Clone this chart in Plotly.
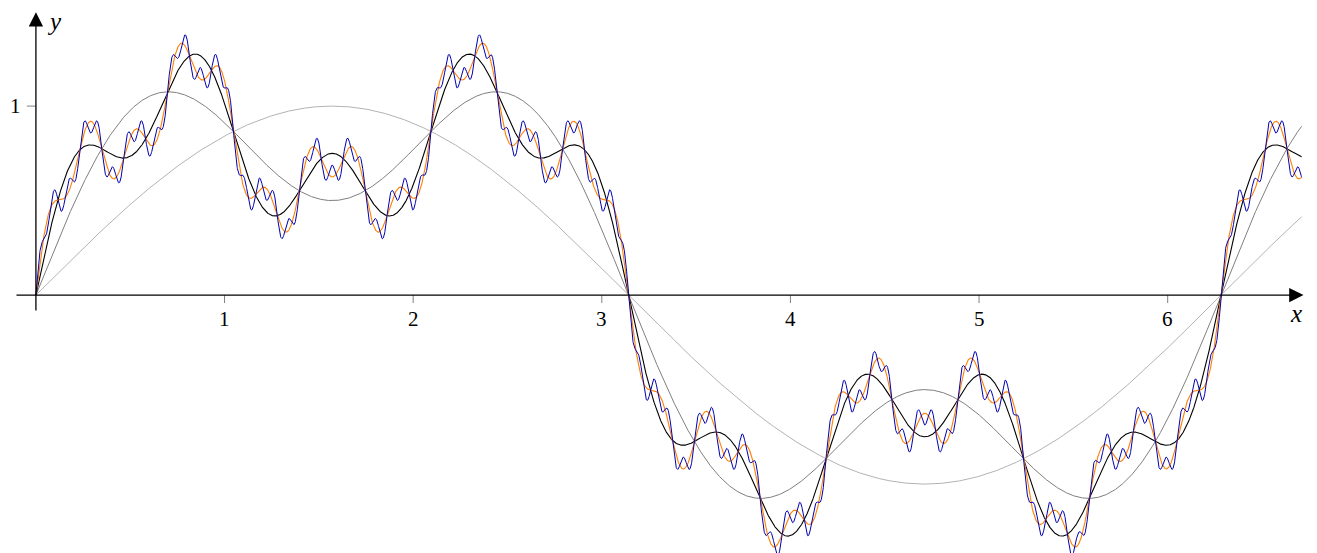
import numpy as np
import plotly.graph_objects as go

# Partial sums of sum_k sin(3^k x) / 2^k
frequencies = [1, 3, 9, 27, 81]
amplitudes = [1.0, 0.5, 0.25, 0.125, 0.0625]
colors = ["#b3b3b3", "#7f7f7f", "#000000", "#ff8000", "#0000b3"]
widths = [1.0, 1.0, 1.1, 1.1, 1.0]
x_start, x_end = 0.0, 6.71
x_ticks = [1, 2, 3, 4, 5, 6]
y_ticks = [1]

xr = [-0.148, 6.834]
yr = [-1.407, 1.519]

x = np.linspace(x_start, x_end, 6000)
fig = go.Figure()
partial = np.zeros_like(x)
for f, a, c, w in zip(frequencies, amplitudes, colors, widths):
    partial = partial + a * np.sin(f * x)
    fig.add_trace(go.Scatter(x=x, y=partial.copy(), mode="lines",
                             line=dict(color=c, width=w), hoverinfo="skip"))

shapes = []
annotations = []
# axes with arrows
annotations.append(dict(x=6.72, y=0, ax=-0.111, ay=0, xref="x", yref="y",
                        axref="x", ayref="y", showarrow=True, arrowhead=2,
                        arrowsize=2.2, arrowwidth=1.3, arrowcolor="black", text=""))
annotations.append(dict(x=0, y=1.497, ax=0, ay=-0.09, xref="x", yref="y",
                        axref="x", ayref="y", showarrow=True, arrowhead=2,
                        arrowsize=2.2, arrowwidth=1.3, arrowcolor="black", text=""))
serif = "Liberation Serif"
for t in x_ticks:
    shapes.append(dict(type="line", xref="x", yref="y", x0=t, x1=t, y0=0, y1=-0.042,
                       line=dict(color="#808080", width=1)))
    annotations.append(dict(x=t, y=-0.055, xref="x", yref="y", text=str(t),
                            showarrow=False, yanchor="top",
                            font=dict(family=serif, size=21, color="black")))
for t in y_ticks:
    shapes.append(dict(type="line", xref="x", yref="y", x0=-0.048, x1=0, y0=t, y1=t,
                       line=dict(color="#808080", width=1)))
    annotations.append(dict(x=-0.07, y=t, xref="x", yref="y", text=str(t),
                            showarrow=False, xanchor="right",
                            font=dict(family=serif, size=21, color="black")))
annotations.append(dict(x=6.68, y=-0.1, xref="x", yref="y", text="<i>x</i>",
                        showarrow=False, font=dict(family=serif, size=25, color="black")))
annotations.append(dict(x=0.1, y=1.45, xref="x", yref="y", text="<i>y</i>",
                        showarrow=False, font=dict(family=serif, size=25, color="black")))

fig.update_layout(
    width=1317, height=553,
    margin=dict(l=0, r=0, t=0, b=0),
    paper_bgcolor="white", plot_bgcolor="white",
    showlegend=False,
    xaxis=dict(range=xr, visible=False, fixedrange=True),
    yaxis=dict(range=yr, visible=False, fixedrange=True),
    shapes=shapes, annotations=annotations,
)
fig.write_html("out.html")
